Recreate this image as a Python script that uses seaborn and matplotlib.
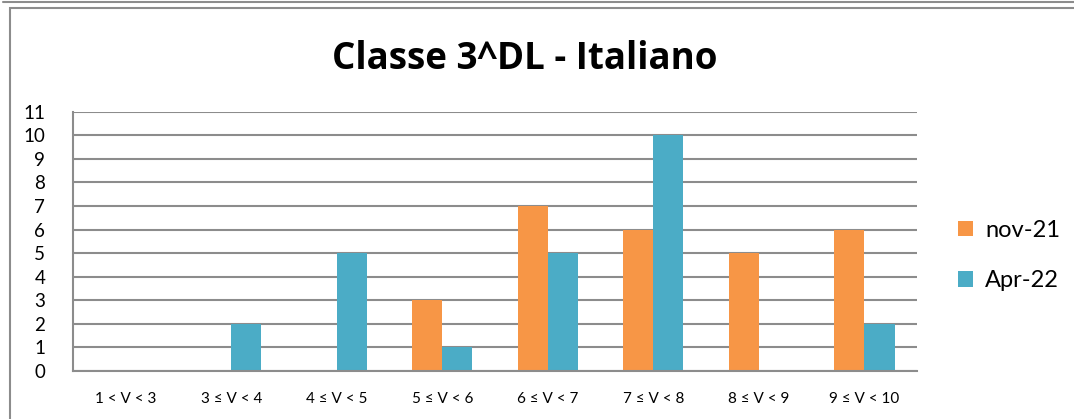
import matplotlib.pyplot as plt
import pandas as pd
import seaborn as sns
from matplotlib.patches import Rectangle

categories = ["1 < V < 3", "3 ≤ V < 4", "4 ≤ V < 5", "5 ≤ V < 6",
              "6 ≤ V < 7", "7 ≤ V < 8", "8 ≤ V < 9", "9 ≤ V < 10"]
nov_21 = [0, 0, 0, 3, 7, 6, 5, 6]
apr_22 = [0, 2, 5, 1, 5, 10, 0, 2]
series_names = ["nov-21", "Apr-22"]
y_ticks = list(range(0, 12))

df = pd.DataFrame({
    "fascia": categories * 2,
    "studenti": nov_21 + apr_22,
    "serie": [series_names[0]] * len(categories) + [series_names[1]] * len(categories),
})

sns.set_theme(style="white")
plt.rcParams["font.family"] = ["Lato", "DejaVu Sans"]

fig = plt.figure(figsize=(10.74, 4.19), dpi=100)
ax = fig.add_axes([0.068, 0.115, 0.786, 0.618])

sns.barplot(data=df, x="fascia", y="studenti", hue="serie", order=categories,
            hue_order=series_names, palette=["#F79646", "#4BACC6"],
            width=0.57, gap=0, saturation=1, linewidth=0, ax=ax, legend=True)

ax.set_ylim(0, 11)
ax.set_yticks(y_ticks)
ax.set_xlim(-0.5, len(categories) - 0.5)
ax.yaxis.grid(True, color="#8C8C8C", linewidth=1.5)
ax.set_axisbelow(True)
ax.tick_params(axis="y", labelsize=13.5, length=0, pad=20, labelcolor="black")
ax.tick_params(axis="x", labelsize=11, length=0, pad=15, labelcolor="black")
ax.set_xlabel("")
ax.set_ylabel("")
for side in ["top", "right"]:
    ax.spines[side].set_visible(False)
for side in ["left", "bottom"]:
    ax.spines[side].set_color("#8C8C8C")
    ax.spines[side].set_linewidth(1.5)
for lab in ax.get_yticklabels():
    lab.set_horizontalalignment("right")

handles, labels = ax.get_legend_handles_labels()
ax.legend_.remove()
fig.legend(handles, labels, loc="center left", bbox_to_anchor=(0.872, 0.39),
           frameon=False, fontsize=17, handlelength=0.65, handleheight=0.65,
           handletextpad=0.5, labelspacing=1.25, labelcolor="black")

fig.text(0.489, 0.858, "Classe 3^DL - Italiano", ha="center", va="center",
         fontsize=26.5, fontweight="bold", family=["Open Sans", "DejaVu Sans"],
         color="black")

# chart frames
fig.patches.append(Rectangle((10 / 1074, -0.01), 1.1, 1 - 8 / 419 + 0.01,
                             transform=fig.transFigure, fill=False,
                             edgecolor="#8C8C8C", linewidth=1.5))
fig.lines.append(plt.Line2D([3 / 1074, 1], [1 - 2 / 419, 1 - 2 / 419],
                            transform=fig.transFigure, color="#8C8C8C", linewidth=1.5))

fig.savefig("out.png", dpi=100)
